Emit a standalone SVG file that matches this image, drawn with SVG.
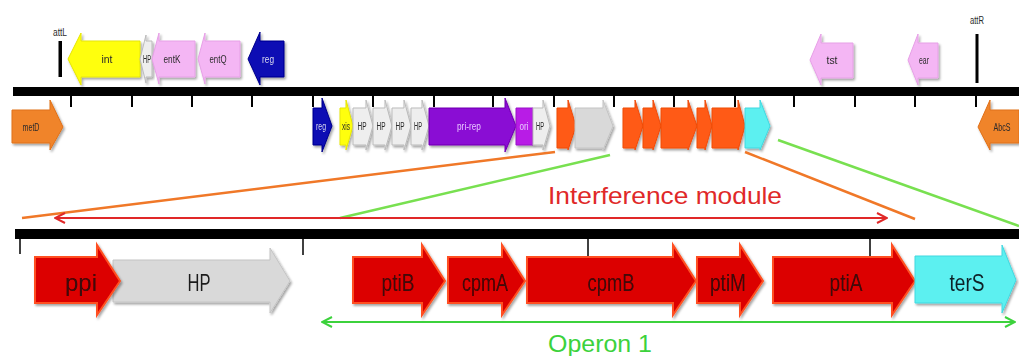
<svg xmlns="http://www.w3.org/2000/svg" width="1019" height="356" viewBox="0 0 1019 356">
<defs>
<filter id="sh" x="-10%" y="-10%" width="130%" height="140%"><feDropShadow dx="1.5" dy="2" stdDeviation="1.2" flood-color="#000" flood-opacity="0.35"/></filter>
<marker id="ar" viewBox="0 0 12 12" refX="11" refY="6" markerWidth="12" markerHeight="12" markerUnits="userSpaceOnUse" orient="auto-start-reverse"><path d="M1,1 L11,6 L1,11" fill="none" stroke="#e02828" stroke-width="2"/></marker>
<marker id="ag" viewBox="0 0 12 12" refX="11" refY="6" markerWidth="12" markerHeight="12" markerUnits="userSpaceOnUse" orient="auto-start-reverse"><path d="M1,1 L11,6 L1,11" fill="none" stroke="#3cd23c" stroke-width="2"/></marker>
</defs>
<style>
.g{filter:url(#sh);stroke-width:1}
.s{font-family:"Liberation Sans",Arial,sans-serif;font-size:10px;text-anchor:middle;fill:#2a2a2a}
.b{font-family:"Liberation Sans",Arial,sans-serif;font-size:24px;text-anchor:middle;fill:#3a0808}
.bar{fill:#000}
.tk{stroke:#000;stroke-width:2}
.tk2{stroke:#000;stroke-width:1.5}
.pink{fill:#f4b6f4;stroke:#e6a0e6}
.yel{fill:#ffff10;stroke:#e6e600}
.blue{fill:#0a0ab4;stroke:#00008c}
.grey{fill:#d9d9d9;stroke:#c4c4c4}
.lg{fill:#eeeeee;stroke:#bbbbbb}
.org{fill:#f0842a;stroke:#e07018}
.or2{fill:#ff5a14;stroke:#f04a08}
.pur{fill:#8a08d4;stroke:#7000b0}
.mag{fill:#b81ee6;stroke:#9a10c8}
.cya{fill:#5cf0f0;stroke:#40d8e0}
.red{fill:#dc0000;stroke:#ff5020;stroke-width:2}
.lbl{font-family:"Liberation Sans",Arial,sans-serif;font-size:24px;text-anchor:middle}
</style>

<g id="backbone-top">
<rect class="bar" x="13" y="87" width="1006" height="9"/>
<g class="tk">
<line x1="71" y1="96" x2="71" y2="107"/><line x1="132" y1="96" x2="132" y2="107"/><line x1="192" y1="96" x2="192" y2="107"/><line x1="252" y1="96" x2="252" y2="107"/>
<line x1="313" y1="96" x2="313" y2="107"/><line x1="373" y1="96" x2="373" y2="107"/><line x1="434" y1="96" x2="434" y2="107"/><line x1="493" y1="96" x2="493" y2="107"/>
<line x1="554" y1="96" x2="554" y2="107"/><line x1="614" y1="96" x2="614" y2="107"/><line x1="674" y1="96" x2="674" y2="107"/><line x1="735" y1="96" x2="735" y2="107"/>
<line x1="794" y1="96" x2="794" y2="107"/><line x1="855" y1="96" x2="855" y2="107"/><line x1="915" y1="96" x2="915" y2="107"/><line x1="976" y1="96" x2="976" y2="107"/>
</g>
</g>
<g id="backbone-bottom">
<rect class="bar" x="15" y="229" width="1004" height="10"/>
<g class="tk2">
<line x1="20" y1="239" x2="20" y2="254"/><line x1="303" y1="239" x2="303" y2="255"/><line x1="588" y1="239" x2="588" y2="256"/><line x1="870" y1="239" x2="870" y2="256"/>
</g>
</g>

<g id="attL"><rect x="58.5" y="41" width="3.5" height="36" fill="#000"/><text class="s" x="60" y="36" textLength="14" lengthAdjust="spacingAndGlyphs">attL</text></g>
<g id="attR"><rect x="975.5" y="34" width="3" height="49" fill="#000"/><text class="s" x="977" y="24" textLength="14" lengthAdjust="spacingAndGlyphs">attR</text></g>

<g id="int" class="g"><path class="yel" d="M140,41 L81,41 L81,33 L68,59 L81,85 L81,77 L140,77 Z"/><text class="s" x="107" y="63" textLength="11" lengthAdjust="spacingAndGlyphs">int</text></g>
<g id="HP-a" class="g"><path class="lg" d="M152,41 L146,41 L146,35 L140,59 L146,83 L146,77 L152,77 Z"/><text class="s" x="147" y="63" textLength="8" lengthAdjust="spacingAndGlyphs">HP</text></g>
<g id="entK" class="g"><path class="pink" d="M195,41 L159,41 L159,33 L152,59 L159,84 L159,77 L195,77 Z"/><text class="s" x="172" y="63" textLength="17" lengthAdjust="spacingAndGlyphs">entK</text></g>
<g id="entQ" class="g"><path class="pink" d="M240,41 L205,41 L205,33 L198,59 L205,84 L205,77 L240,77 Z"/><text class="s" x="218" y="63" textLength="17" lengthAdjust="spacingAndGlyphs">entQ</text></g>
<g id="reg-a" class="g"><path class="blue" d="M284,41 L260,41 L260,32 L248,59 L260,85 L260,77 L284,77 Z"/><text class="s" x="268" y="63" style="fill:#dde" textLength="12" lengthAdjust="spacingAndGlyphs">reg</text></g>
<g id="tst" class="g"><path class="pink" d="M853,43 L821,43 L821,34 L810,60 L821,85 L821,78 L853,78 Z"/><text class="s" x="832" y="64" textLength="11" lengthAdjust="spacingAndGlyphs">tst</text></g>
<g id="ear" class="g"><path class="pink" d="M938,43 L918,43 L918,34 L908,60 L918,85 L918,78 L938,78 Z"/><text class="s" x="924" y="64" textLength="10" lengthAdjust="spacingAndGlyphs">ear</text></g>

<g id="metD" class="g"><path class="org" d="M12,110 L50,110 L50,100 L63,127 L50,150 L50,143 L12,143 Z"/><text class="s" x="31" y="131" textLength="17" lengthAdjust="spacingAndGlyphs">metD</text></g>
<g id="AbcS" class="g"><path class="org" d="M1019,110 L990,110 L990,100 L978,127 L990,150 L990,143 L1019,143 Z"/><text class="s" x="1002" y="131" textLength="17" lengthAdjust="spacingAndGlyphs">AbcS</text></g>
<g id="reg-b" class="g"><path class="blue" d="M313,108 L322,108 L322,98 L332,126 L322,152 L322,145 L313,145 Z"/><text class="s" x="321" y="130" style="fill:#dde" textLength="10" lengthAdjust="spacingAndGlyphs">reg</text></g>
<g id="xis" class="g"><path class="yel" d="M340,108 L346,108 L346,100 L353,126 L346,150 L346,145 L340,145 Z"/><text class="s" x="346" y="130" textLength="8" lengthAdjust="spacingAndGlyphs">xis</text></g>
<g id="HP-b" class="g"><path class="lg" d="M353,108 L366,108 L366,100 L373,126 L366,150 L366,145 L353,145 Z"/><text class="s" x="362" y="130" textLength="9" lengthAdjust="spacingAndGlyphs">HP</text></g>
<g id="HP-c" class="g"><path class="lg" d="M373,108 L385,108 L385,100 L392,126 L385,150 L385,145 L373,145 Z"/><text class="s" x="381" y="130" textLength="9" lengthAdjust="spacingAndGlyphs">HP</text></g>
<g id="HP-d" class="g"><path class="lg" d="M392,108 L404,108 L404,100 L411,126 L404,150 L404,145 L392,145 Z"/><text class="s" x="400" y="130" textLength="9" lengthAdjust="spacingAndGlyphs">HP</text></g>
<g id="HP-e" class="g"><path class="lg" d="M411,108 L422,108 L422,100 L429,126 L422,150 L422,145 L411,145 Z"/><text class="s" x="418" y="130" textLength="8" lengthAdjust="spacingAndGlyphs">HP</text></g>
<g id="pri-rep" class="g"><path class="pur" d="M429,108 L505,108 L505,98 L516,126 L505,152 L505,145 L429,145 Z"/><text class="s" x="469" y="130" style="fill:#e8c8ff" textLength="24" lengthAdjust="spacingAndGlyphs">pri-rep</text></g>
<g id="ori" class="g"><path class="mag" d="M516,108 L533,108 L533,145 L516,145 Z"/><text class="s" x="524" y="130" style="fill:#e8c8ff" textLength="9" lengthAdjust="spacingAndGlyphs">ori</text></g>
<g id="HP-f" class="g"><path class="lg" d="M533,108 L543,108 L543,100 L550,126 L543,150 L543,145 L533,145 Z"/><text class="s" x="540" y="130" textLength="8" lengthAdjust="spacingAndGlyphs">HP</text></g>
<g id="ppi-s" class="g"><path class="or2" d="M557,108 L568,108 L568,100 L576,126 L568,150 L568,148 L557,148 Z"/></g>
<g id="HP-g" class="g"><path class="grey" d="M575,108 L603,108 L603,100 L613,126 L603,150 L603,148 L575,148 Z"/></g>
<g id="ptiB-s" class="g"><path class="or2" d="M623,108 L635,108 L635,100 L643,126 L635,150 L635,148 L623,148 Z"/></g>
<g id="cpmA-s" class="g"><path class="or2" d="M643,108 L653,108 L653,100 L661,126 L653,150 L653,148 L643,148 Z"/></g>
<g id="cpmB-s" class="g"><path class="or2" d="M661,108 L688,108 L688,100 L697,126 L688,150 L688,148 L661,148 Z"/></g>
<g id="ptiM-s" class="g"><path class="or2" d="M697,108 L705,108 L705,100 L712,126 L705,150 L705,148 L697,148 Z"/></g>
<g id="ptiA-s" class="g"><path class="or2" d="M712,108 L738,108 L738,100 L745,126 L738,150 L738,148 L712,148 Z"/></g>
<g id="terS-s" class="g"><path class="cya" d="M745,108 L760,108 L760,100 L770,126 L760,150 L760,148 L745,148 Z"/></g>

<g id="HP" class="g"><path class="grey" d="M113,260 L270,260 L270,248 L290,281 L270,313 L270,302 L113,302 Z"/><text class="b" x="199" y="291" style="fill:#1e1e1e" textLength="23" lengthAdjust="spacingAndGlyphs">HP</text></g>
<g id="ppi" class="g"><path class="red" d="M35,257 L97,257 L97,245 L120,281 L97,315 L97,303 L35,303 Z"/><text class="b" x="81" y="291" textLength="32" lengthAdjust="spacingAndGlyphs">ppi</text></g>
<g id="ptiB" class="g"><path class="red" d="M353,257 L422,257 L422,245 L445,281 L422,315 L422,303 L353,303 Z"/><text class="b" x="398" y="291" textLength="33" lengthAdjust="spacingAndGlyphs">ptiB</text></g>
<g id="cpmA" class="g"><path class="red" d="M448,257 L502,257 L502,245 L525,281 L502,315 L502,303 L448,303 Z"/><text class="b" x="485" y="291" textLength="46" lengthAdjust="spacingAndGlyphs">cpmA</text></g>
<g id="cpmB" class="g"><path class="red" d="M527,257 L673,257 L673,245 L696,281 L673,315 L673,303 L527,303 Z"/><text class="b" x="611" y="291" textLength="47" lengthAdjust="spacingAndGlyphs">cpmB</text></g>
<g id="ptiM" class="g"><path class="red" d="M697,257 L740,257 L740,245 L763,281 L740,315 L740,303 L697,303 Z"/><text class="b" x="728" y="291" textLength="36" lengthAdjust="spacingAndGlyphs">ptiM</text></g>
<g id="ptiA" class="g"><path class="red" d="M773,257 L892,257 L892,245 L915,281 L892,315 L892,303 L773,303 Z"/><text class="b" x="846" y="291" textLength="33" lengthAdjust="spacingAndGlyphs">ptiA</text></g>
<g id="terS" class="g"><path class="cya" d="M915,256 L1002,256 L1002,245 L1016,280 L1002,313 L1002,303 L915,303 Z"/><text class="b" x="967" y="291" style="fill:#102028" textLength="35" lengthAdjust="spacingAndGlyphs">terS</text></g>

<g id="connectors" fill="none" stroke-width="2.5">
<line x1="555" y1="152" x2="22" y2="218" stroke="#f07828"/>
<line x1="610" y1="155" x2="340" y2="218" stroke="#78e050"/>
<line x1="745" y1="152" x2="915" y2="219" stroke="#f07828"/>
<line x1="778" y1="140" x2="1019" y2="226" stroke="#78e050"/>
<line x1="55" y1="218" x2="887" y2="218" stroke="#e02828" stroke-width="2" marker-start="url(#ar)" marker-end="url(#ar)"/>
<line x1="322" y1="322" x2="1015" y2="322" stroke="#3cd23c" stroke-width="2" marker-start="url(#ag)" marker-end="url(#ag)"/>
</g>
<text class="lbl" x="665" y="204" fill="#e02828" textLength="234" lengthAdjust="spacingAndGlyphs">Interference module</text>
<text class="lbl" x="600" y="352" fill="#3cd23c" textLength="104" lengthAdjust="spacingAndGlyphs">Operon 1</text>
</svg>
